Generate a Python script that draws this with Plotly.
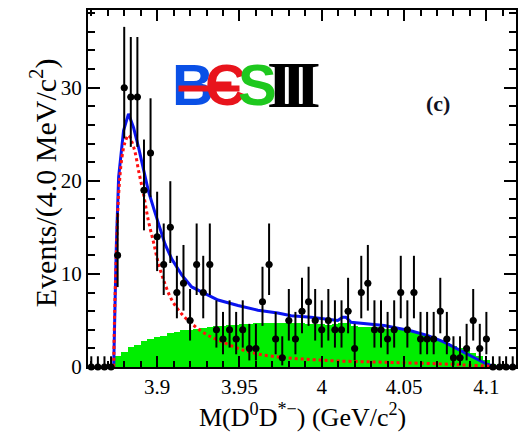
import math
import plotly.graph_objects as go

# ---------------- data ----------------
bin_start = 3.858
bin_width = 0.004
counts = [0, 0, 0, 0, 12, 30, 29, 29, 19, 23, 14, 11, 15, 8, 9, 5, 11, 8, 11, 4,
          3, 4, 3, 4, 2, 2, 7, 11, 3, 1, 5, 3, 6, 7, 5, 4, 5, 4, 4, 6,
          2, 8, 9, 4, 4, 3, 4, 8, 4, 8, 3, 3, 3, 6, 3, 1, 1, 2, 5, 2,
          3, 0, 0, 0, 0]
background = [0, 0, 0, 0, 1.15, 1.6, 2.1, 2.4, 2.8, 3.0, 3.2, 3.3, 3.6, 3.8, 3.95, 4.0,
              4.1, 4.2, 4.3, 4.4, 4.45, 4.5, 4.55, 4.6, 4.65, 4.7, 4.7, 4.7, 4.7, 4.75,
              4.75, 4.75, 4.7, 4.6, 4.6, 4.6, 4.55, 4.6, 4.7, 4.7, 4.4, 4.3, 4.3, 4.3,
              4.2, 4.1, 4.0, 4.0, 3.9, 3.8, 3.6, 3.4, 3.2, 2.9, 2.6, 2.3, 2.0, 1.8, 1.5,
              1.15, 0.8, 0.35, 0, 0, 0]
zero_bin_upper = 1.15

signal_x = [3.8736, 3.8742, 3.8752, 3.8766, 3.8786, 3.8806, 3.8826, 3.8846, 3.8867,
            3.8887, 3.8917, 3.8947, 3.8978, 3.9008, 3.9048, 3.9089, 3.9149, 3.9210,
            3.9290, 3.9370, 3.9491, 3.9612, 3.9773, 3.9935, 4.0094, 4.0297, 4.0498,
            4.0698, 4.0861, 4.1012, 4.1103, 4.118]
signal_y = [0, 6, 12, 18.5, 22.5, 24.2, 24.9, 24.2, 23.0, 21.1, 18.6, 15.7, 13.4,
            11.1, 8.9, 7.2, 5.7, 4.65, 3.6, 2.9, 2.0, 1.4, 1.0, 0.8, 0.65, 0.55, 0.45,
            0.35, 0.22, 0.1, 0.03, 0]

total_x = [3.8736, 3.8742, 3.8752, 3.8766, 3.8796, 3.8826, 3.8857, 3.8887, 3.8917,
           3.8947, 3.8978, 3.9008, 3.9048, 3.9089, 3.9149, 3.9210, 3.9290, 3.9370,
           3.9491, 3.9612, 3.9733, 3.9814, 3.9935, 3.9996, 4.0097, 4.0127, 4.0147,
           4.0178, 4.0379, 4.0540, 4.0641, 4.0741, 4.0842, 4.0922, 4.1003, 4.106, 4.118]
total_y = [0, 6.5, 13, 20.4, 25.4, 27.2, 25.7, 23.6, 21.1, 18.9, 17.1, 15.4, 13.2,
           11.6, 9.9, 8.6, 7.9, 7.2, 6.6, 6.1, 5.8, 5.5, 5.35, 5.2, 5.0, 5.35, 5.35,
           4.8, 4.45, 3.9, 3.4, 2.7, 1.8, 1.0, 0.3, 0, 0]

x_tick_vals = [3.9, 3.95, 4.0, 4.05, 4.1]
x_tick_text = ["3.9", "3.95", "4", "4.05", "4.1"]
y_tick_vals = [0, 10, 20, 30]
y_tick_text = ["0", "10", "20", "30"]

# ---------------- helpers ----------------
centers = [bin_start + bin_width * (i + 0.5) for i in range(len(counts))]


def pois_cdf(k, mu):
    term = math.exp(-mu)
    s = term
    for j in range(1, k + 1):
        term *= mu / j
        s += term
    return s


def garwood(n):
    a = 0.158655
    if n == 0:
        return zero_bin_upper, 0.0
    lo, hi = n, n + 20.0
    for _ in range(80):
        mid = 0.5 * (lo + hi)
        if pois_cdf(n, mid) > a:
            lo = mid
        else:
            hi = mid
    up = 0.5 * (lo + hi) - n
    lo, hi = 0.0, float(n)
    for _ in range(80):
        mid = 0.5 * (lo + hi)
        if 1 - pois_cdf(n - 1, mid) < a:
            lo = mid
        else:
            hi = mid
    dn = n - 0.5 * (lo + hi)
    return up, dn


err_up, err_dn = zip(*[garwood(n) for n in counts])

SERIF = "Liberation Serif, Times New Roman, serif"
SANS = "Liberation Sans, Arial, sans-serif"

fig = go.Figure()
fig.add_trace(go.Bar(x=centers, y=background, width=bin_width,
                     marker=dict(color="#00ee00", line=dict(width=0)),
                     showlegend=False))
fig.add_trace(go.Scatter(x=total_x, y=total_y, mode="lines",
                         line=dict(color="#0a14f0", width=3), showlegend=False))
fig.add_trace(go.Scatter(x=signal_x, y=signal_y, mode="lines",
                         line=dict(color="#ff1010", width=3, dash="dot", shape="spline"),
                         showlegend=False))
fig.add_trace(go.Scatter(x=centers, y=counts, mode="markers",
                         marker=dict(color="black", size=7, symbol="circle"),
                         error_y=dict(type="data", symmetric=False, array=list(err_up),
                                      arrayminus=list(err_dn), color="black",
                                      thickness=2, width=0),
                         error_x=dict(type="constant", value=bin_width / 2,
                                      color="black", thickness=2, width=0),
                         showlegend=False, cliponaxis=False))

L, R, T, B = 88, 2, 10, 65
W, H = 520, 432
pw, ph = W - L - R, H - T - B


def px(xp):
    return (xp - L) / pw


def py(yp):
    return (H - B - yp) / ph


axis_common = dict(showline=True, linecolor="black", linewidth=2, mirror="allticks",
                   ticks="inside", tickcolor="black", tickwidth=2, showgrid=False,
                   zeroline=False, tickfont=dict(family=SERIF, size=21, color="black"))

fig.update_layout(
    width=W, height=H, margin=dict(l=L, r=R, t=T, b=B),
    paper_bgcolor="white", plot_bgcolor="white", bargap=0,
    xaxis=dict(range=[bin_start, 4.118], tickmode="array", tickvals=x_tick_vals,
               ticktext=x_tick_text, ticklen=11,
               minor=dict(dtick=0.01, tick0=3.86, ticklen=6, tickwidth=1.5,
                          ticks="inside", tickcolor="black", showgrid=False),
               **axis_common),
    yaxis=dict(range=[0, 38.35], tickmode="array", tickvals=y_tick_vals,
               ticktext=y_tick_text, ticklen=12,
               minor=dict(dtick=2, tick0=0, ticklen=7, tickwidth=1.5,
                          ticks="inside", tickcolor="black", showgrid=False),
               **axis_common),
)

logo_size = 58
annotations = [
    dict(text="Events/(4.0 MeV/c<sup>2</sup>)", x=px(43), y=py(183), textangle=-90,
         font=dict(family=SERIF, size=30, color="black")),
    dict(text="M(D<sup>0</sup>D<sup>*−</sup>) (GeV/c<sup>2</sup>)", x=px(304), y=py(415),
         font=dict(family=SERIF, size=26, color="black")),
    dict(text="<b>(c)</b>", x=px(440), y=py(104),
         font=dict(family=SERIF, size=22, color="#111122")),
    dict(text="<b>B</b>", x=px(193), y=py(84),
         font=dict(family=SANS, size=logo_size, color="#0a50e6")),
    dict(text="<b>Є</b>", x=px(226), y=py(84),
         font=dict(family=SANS, size=logo_size, color="#e8141c")),
    dict(text="<b>S</b>", x=px(258), y=py(84),
         font=dict(family=SANS, size=logo_size, color="#1ec81e")),
    dict(text="<b>I</b>", x=px(281), y=py(84),
         font=dict(family=SERIF, size=66, color="black")),
    dict(text="<b>I</b>", x=px(295), y=py(84),
         font=dict(family=SERIF, size=66, color="black")),
    dict(text="<b>I</b>", x=px(309), y=py(84),
         font=dict(family=SERIF, size=66, color="black")),
    # red bar through B and E of the logo
    dict(text=" ", x=px(210), y=py(88), width=60, height=5, bgcolor="#e8141c",
         borderpad=0, font=dict(size=4)),
]
for a in annotations:
    a.update(xref="paper", yref="paper", showarrow=False, xanchor="center", yanchor="middle")
fig.update_layout(annotations=annotations)

fig.write_html("out.html")
